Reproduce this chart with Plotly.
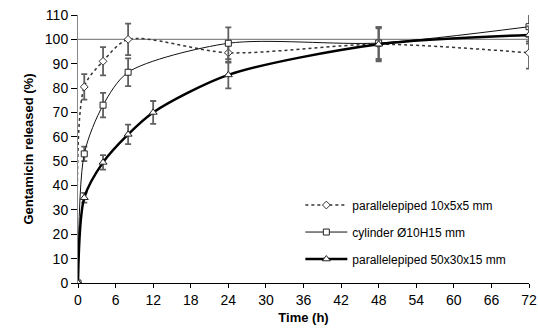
import plotly.graph_objects as go

time = [0, 1, 4, 8, 24, 48, 72]
time_large = [0, 1, 4, 8, 12, 24, 48, 72]

small_vals = [0, 80.5, 91, 100, 94.5, 98, 94.5]
small_err = [0, 5.2, 5.8, 6.5, 4.0, 6.5, 6.5]

cyl_vals = [0, 53, 73, 86.5, 98.4, 98.5, 105.2]
cyl_err = [0, 3.0, 5.0, 5.7, 6.5, 6.5, 6.0]

large_vals = [0, 35, 49.5, 61, 70, 85.4, 98, 101.8]
large_err = [0, 2.0, 3.0, 4.0, 4.7, 5.5, 7.0, 3.5]

x_ticks = list(range(0, 73, 6))
y_ticks = list(range(0, 111, 10))

names = ["parallelepiped 10x5x5 mm", "cylinder Ø10H15 mm", "parallelepiped 50x30x15 mm"]

fig = go.Figure()

err_style = dict(type="data", visible=True, color="#606060", thickness=1.8, width=3)

fig.add_trace(go.Scatter(
    x=time, y=small_vals, name=names[0], legendgroup="a",
    mode="lines+markers",
    line=dict(color="#333333", width=1.5, dash="dot", shape="spline", smoothing=0.8),
    marker=dict(symbol="diamond", size=6, color="white", line=dict(color="#333333", width=1)),
    error_y=dict(array=small_err, **err_style),
))
fig.add_trace(go.Scatter(
    x=time, y=cyl_vals, name=names[1], legendgroup="b",
    mode="lines+markers",
    line=dict(color="#111111", width=1, shape="spline", smoothing=0.8),
    marker=dict(symbol="square", size=6, color="white", line=dict(color="#222222", width=1)),
    error_y=dict(array=cyl_err, **err_style),
))
fig.add_trace(go.Scatter(
    x=time_large, y=large_vals, name=names[2], legendgroup="c",
    mode="lines+markers",
    line=dict(color="black", width=2.5, shape="spline", smoothing=0.8),
    marker=dict(symbol="triangle-up", size=7, color="white", line=dict(color="#222222", width=1)),
    error_y=dict(array=large_err, **err_style),
))

fig.add_shape(type="line", x0=0, x1=72, y0=100, y1=100, xref="x", yref="y",
              line=dict(color="#888888", width=1.2), layer="below")

fig.update_layout(
    width=538, height=334,
    margin=dict(l=78, r=9, t=15, b=51, autoexpand=False),
    plot_bgcolor="white", paper_bgcolor="white",
    font=dict(family="Liberation Sans, Arial, sans-serif", color="black"),
    showlegend=True,
    legend=dict(x=0.493, y=0.345, xanchor="left", yanchor="top",
                font=dict(size=12), bgcolor="rgba(0,0,0,0)",
                tracegroupgap=8, itemwidth=42),
    xaxis=dict(range=[0, 72], tickvals=x_ticks, ticktext=[str(v) for v in x_ticks],
               automargin=False, ticklabeloverflow="allow",
               showgrid=False, zeroline=False, showline=True, linecolor="black", linewidth=1,
               ticks="outside", ticklen=4, tickcolor="black", tickfont=dict(size=14),
               title=dict(text="<b>Time (h)</b>", font=dict(size=13), standoff=6)),
    yaxis=dict(range=[0, 110], tickvals=y_ticks, ticktext=[str(v) for v in y_ticks],
               automargin=False, ticklabeloverflow="allow",
               showgrid=False, zeroline=False, showline=True, linecolor="#888888", linewidth=1,
               ticks="outside", ticklen=6, tickcolor="black", tickfont=dict(size=14),
               title=dict(text="<b>Gentamicin released (%)</b>", font=dict(size=13), standoff=8)),
)

fig.write_html("out.html", config={"displayModeBar": False},
               post_script="document.body.style.margin='0';")
